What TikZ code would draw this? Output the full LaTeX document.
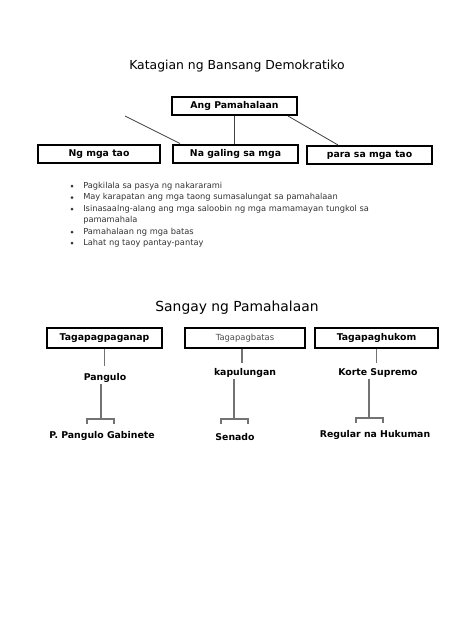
\documentclass[tikz,border=0pt]{standalone}
\usepackage{fontspec}
\setmainfont{DejaVu Sans}
\begin{document}
\begin{tikzpicture}[x=0.75pt,y=-0.75pt,
  boxa/.style={draw=black,line width=1.5pt,minimum height=13.5pt,inner sep=0pt,font=\fontsize{7}{8}\selectfont\bfseries},
  lbl/.style={inner sep=1pt,font=\fontsize{7}{8}\selectfont\bfseries},
  conn/.style={draw=black!75,line width=0.6pt},
  gconn/.style={draw=black!55,line width=1pt}]
\useasboundingbox (0,0) rectangle (474,632);
\fill[white] (0,0) rectangle (474,632);
% top section
\node[font=\fontsize{9.3}{11}\selectfont] (t1) at (237,66) {Katagian ng Bansang Demokratiko};
\node[boxa,minimum width=93.75pt] (ap) at (234.5,106) {Ang Pamahalaan};
\node[boxa,minimum width=91.5pt] (ng) at (99,154) {Ng mga tao};
\node[boxa,minimum width=93.75pt] (na) at (235.5,153.5) {Na galing sa mga};
\node[boxa,minimum width=93.75pt] (pa) at (369.5,155) {para sa mga tao};
\coordinate (free) at (125,116);
\draw[conn] (ap.south -| 234,0) -- (na.north -| 234,0);
\draw[conn] (free) -- (na.north west -| 180,0);
\draw[conn] (ap.south east) ++(-10,0) coordinate (apr) -- (pa.north -| 338,0);
% bullet list
\begin{scope}[every node/.style={anchor=west,inner sep=0pt,text=black!80,font=\fontsize{6.2}{8}\selectfont}]
\node (b1) at (83,186) {Pagkilala sa pasya ng nakararami};
\node (b2) at (83,197.5) {May karapatan ang mga taong sumasalungat sa pamahalaan};
\node (b3) at (83,209) {Isinasaalng-alang ang mga saloobin ng mga mamamayan tungkol sa};
\node (b3b) at (83,220.5) {pamamahala};
\node (b4) at (83,232) {Pamahalaan ng mga batas};
\node (b5) at (83,243) {Lahat ng taoy pantay-pantay};
\end{scope}
\foreach \yy in {186,197.5,209,232,243} \fill[black!80] (72,\yy) circle (1.5);
% second section
\node[font=\fontsize{10.4}{13}\selectfont] (t2) at (237,308) {Sangay ng Pamahalaan};
\node[boxa,minimum width=86pt,minimum height=15pt] (tg1) at (104.5,338) {Tagapagpaganap};
\node[boxa,minimum width=90pt,minimum height=15pt,font=\fontsize{6.3}{8}\selectfont,text=black!70] (tg2) at (245,338) {Tagapagbatas};
\node[boxa,minimum width=92pt,minimum height=15pt] (tg3) at (376.5,338) {Tagapaghukom};
\node[lbl] (pg) at (105,378) {Pangulo};
\node[lbl] (kp) at (245,373) {kapulungan};
\node[lbl] (ks) at (378,373) {Korte Supremo};
\draw[gconn] (tg1.south) -- (tg1.south |- 0,366);
\draw[gconn] (tg2.south -| 242,0) -- (242,363);
\draw[gconn] (tg3.south) -- (tg3.south |- 0,363);
\node[lbl] (pp) at (102,436) {P. Pangulo Gabinete};
\node[lbl] (se) at (235,437) {Senado};
\node[lbl] (rh) at (375,434.5) {Regular na Hukuman};
% brackets
\draw[gconn] (pg.south -| 101,0) -- (101,419);
\draw[gconn] (87,424) -- (87,419) -- (114,419) -- (114,424);
\draw[gconn] (kp.south -| 234,0) -- (234,419);
\draw[gconn] (221,424) -- (221,419) -- (248,419) -- (248,424);
\draw[gconn] (ks.south -| 369,0) -- (369,418);
\draw[gconn] (356,423) -- (356,418) -- (383,418) -- (383,423);
\end{tikzpicture}
\end{document}
